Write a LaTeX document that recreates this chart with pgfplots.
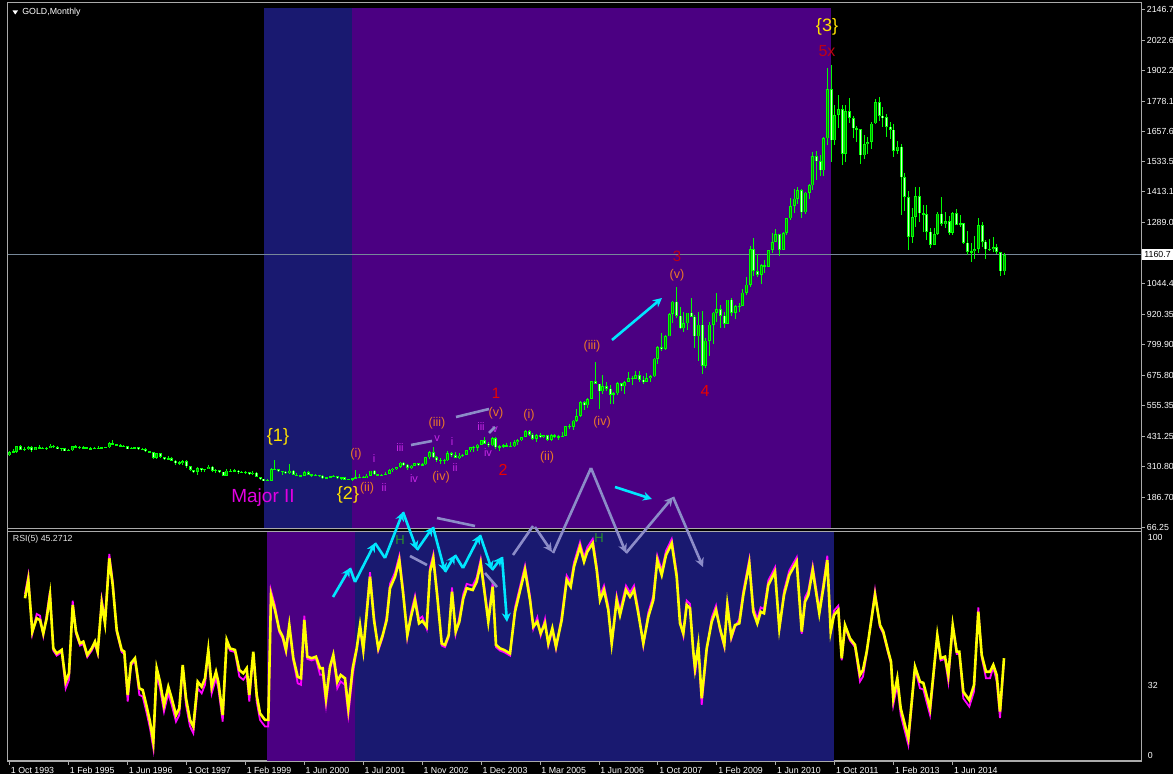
\documentclass[border=0pt]{standalone}
\usepackage{fontspec}
\setmainfont{Liberation Sans}
\usepackage{pgfplots}
\pgfplotsset{compat=1.18}
\usepackage{pgfplotstable}
\usetikzlibrary{arrows.meta}

\definecolor{mtnavy}{RGB}{25,25,112}
\definecolor{mtindigo}{RGB}{75,0,130}
\definecolor{mtframe}{RGB}{170,170,170}
\definecolor{mtline}{RGB}{119,136,153}
\definecolor{candle}{RGB}{0,255,0}
\definecolor{bullfill}{RGB}{0,150,0}
\definecolor{bearfill}{RGB}{210,255,210}
\definecolor{rsiY}{RGB}{255,255,0}
\definecolor{rsiM}{RGB}{255,0,255}
\definecolor{wcyan}{RGB}{0,230,255}
\definecolor{wgray}{RGB}{140,140,200}
\definecolor{worange}{RGB}{235,120,40}
\definecolor{wviolet}{RGB}{200,40,230}
\definecolor{wred}{RGB}{235,0,0}
\definecolor{wdred}{RGB}{190,0,20}
\definecolor{wyellow}{RGB}{255,225,0}
\definecolor{wmag}{RGB}{225,0,225}
\definecolor{wgreen}{RGB}{40,150,40}

\newcommand\fs[1]{\fontsize{#1}{#1}\selectfont}

% monthly bars: index, open, high, low, close
\pgfplotstableread{
i o h l c
0 355 372 354 369
1 369 380 367 370
2 370 392 366 391
3 391 395 376 377
4 377 387 374 381
5 381 392 376 389
6 389 392 368 376
7 376 390 375 387
8 387 395 380 385
9 385 390 379 384
10 384 389 376 386
11 386 399 385 394
12 394 396 386 389
13 389 393 381 383
14 383 384 374 383
15 383 384 371 374
16 374 380 372 376
17 376 393 374 392
18 392 397 386 389
19 389 391 382 385
20 385 392 384 387
21 387 390 381 383
22 383 389 380 382
23 382 387 381 384
24 384 392 381 383
25 383 390 382 387
26 387 390 384 387
27 387 408 386 405
28 405 415 397 400
29 400 402 393 396
30 396 400 390 392
31 392 396 388 391
32 391 392 381 382
33 382 390 380 385
34 385 390 384 387
35 387 388 378 379
36 379 384 378 379
37 379 383 370 371
38 371 373 367 369
39 369 369 342 345
40 345 366 341 364
41 364 364 346 349
42 349 350 337 340
43 340 351 339 345
44 345 348 333 334
45 334 335 316 326
46 326 331 318 325
47 325 337 318 332
48 332 335 306 311
49 311 314 293 296
50 296 298 283 290
51 290 309 278 303
52 303 306 290 297
53 297 302 287 301
54 301 316 299 310
55 310 311 290 293
56 293 300 286 296
57 296 297 285 289
58 289 290 272 273
59 273 300 272 293
60 293 302 287 292
61 292 299 290 294
62 294 296 282 288
63 288 293 283 287
64 287 292 281 287
65 287 290 278 280
66 280 292 278 286
67 286 290 267 268
68 268 269 257 261
69 261 262 252 255
70 255 259 251 254
71 254 304 254 299
72 299 338 295 299
73 299 300 287 291
74 291 293 278 290
75 290 292 281 283
76 283 319 282 293
77 293 295 276 278
78 278 284 273 274
79 274 278 268 272
80 272 294 271 288
81 288 291 276 277
82 277 280 269 277
83 277 279 271 276
84 276 278 267 273
85 273 275 262 264
86 264 270 263 268
87 268 272 263 270
88 270 275 267 272
89 272 272 262 265
90 265 268 255 267
91 267 270 255 258
92 258 262 255 259
93 259 266 254 264
94 264 295 263 266
95 266 279 265 270
96 270 271 263 265
97 265 280 264 273
98 273 294 272 293
99 293 295 275 279
100 279 280 271 275
101 275 282 272 277
102 277 287 277 282
103 282 301 282 296
104 296 304 288 302
105 302 310 298 308
106 308 327 306 326
107 326 330 314 318
108 318 320 298 304
109 304 316 301 313
110 313 325 311 324
111 324 325 311 316
112 316 324 313 319
113 319 350 318 347
114 347 372 342 368
115 368 388 343 347
116 347 352 330 336
117 336 345 319 334
118 334 341 322 336
119 336 372 333 364
120 364 368 350 356
121 356 369 343 346
122 346 365 340 354
123 354 362 348 358
124 358 377 355 375
125 375 390 369 388
126 388 392 367 386
127 386 400 372 398
128 398 418 397 416
129 416 427 399 402
130 402 410 389 396
131 396 428 392 424
132 424 430 381 388
133 388 395 371 393
134 393 399 386 395
135 395 406 389 391
136 391 410 387 391
137 391 418 387 409
138 409 419 398 416
139 416 430 411 429
140 429 456 428 452
141 452 457 432 438
142 438 443 418 422
143 422 440 410 436
144 436 446 424 428
145 428 438 423 435
146 435 437 414 417
147 417 442 414 435
148 435 441 425 430
149 430 436 418 430
150 430 448 428 433
151 433 475 432 473
152 473 480 460 470
153 470 497 456 495
154 495 540 488 513
155 513 572 510 568
156 568 574 538 556
157 556 587 545 582
158 582 654 582 654
159 654 730 641 643
160 643 643 543 613
161 613 676 600 633
162 633 650 614 623
163 623 637 560 599
164 599 609 561 604
165 604 650 598 646
166 646 646 612 632
167 632 655 602 650
168 650 690 648 665
169 665 672 637 663
170 663 693 662 678
171 678 692 651 659
172 659 672 640 650
173 650 684 649 665
174 665 677 650 673
175 673 745 668 743
176 743 795 721 789
177 789 848 774 783
178 783 838 780 834
179 834 928 835 923
180 923 976 887 972
181 972 1033 908 916
182 916 953 864 865
183 865 932 851 886
184 886 905 860 928
185 928 988 909 912
186 912 919 786 833
187 833 931 735 880
188 880 935 681 716
189 716 826 705 815
190 815 889 753 880
191 880 931 802 928
192 928 1006 891 942
193 942 959 866 916
194 916 929 865 883
195 883 980 882 980
196 980 989 913 927
197 927 960 904 955
198 955 967 931 955
199 955 1025 954 1008
200 1008 1070 1000 1040
201 1040 1195 1033 1182
202 1182 1227 1075 1096
203 1096 1162 1072 1081
204 1081 1125 1045 1118
205 1118 1140 1087 1113
206 1113 1180 1113 1180
207 1180 1248 1166 1212
208 1212 1265 1212 1244
209 1244 1245 1157 1181
210 1181 1252 1181 1248
211 1248 1310 1242 1307
212 1307 1387 1300 1357
213 1357 1424 1330 1386
214 1386 1432 1365 1421
215 1421 1424 1308 1332
216 1332 1411 1325 1410
217 1410 1447 1383 1439
218 1439 1575 1420 1556
219 1556 1577 1462 1536
220 1536 1560 1478 1500
221 1500 1632 1479 1628
222 1628 1912 1600 1826
223 1826 1921 1535 1620
224 1620 1764 1601 1722
225 1722 1802 1670 1746
226 1746 1764 1522 1566
227 1566 1763 1532 1738
228 1738 1791 1691 1710
229 1710 1718 1628 1669
230 1669 1677 1614 1664
231 1664 1666 1527 1560
232 1560 1640 1547 1604
233 1604 1633 1564 1614
234 1614 1694 1587 1688
235 1688 1787 1687 1773
236 1773 1796 1700 1719
237 1719 1755 1672 1713
238 1713 1725 1635 1675
239 1675 1695 1626 1663
240 1663 1684 1555 1578
241 1578 1617 1565 1595
242 1595 1606 1321 1472
243 1472 1488 1338 1393
244 1393 1417 1180 1234
245 1234 1347 1208 1312
246 1312 1434 1274 1395
247 1395 1434 1291 1327
248 1327 1361 1251 1323
249 1323 1362 1221 1253
250 1253 1267 1187 1202
251 1202 1270 1202 1244
252 1244 1332 1240 1326
253 1326 1392 1277 1284
254 1284 1331 1268 1296
255 1296 1315 1240 1250
256 1250 1332 1241 1327
257 1327 1345 1281 1282
258 1282 1322 1273 1287
259 1287 1289 1206 1210
260 1210 1255 1161 1172
261 1172 1207 1131 1175
262 1175 1238 1142 1184
263 1184 1307 1167 1279
264 1279 1294 1191 1213
265 1213 1220 1142 1183
266 1183 1224 1175 1183
267 1183 1232 1170 1190
268 1190 1205 1162 1172
269 1172 1172 1077 1095
270 1095 1168 1080 1160
}\gold

% RSI(5): x in screen position, r = yellow line, m = magenta line
\pgfplotstableread{
x r m
25 71.9 73.9
28.3 80.3 82.3
32.3 56.6 55.6
36.7 62.7 64.7
40 61.9 63.9
43.3 55.8 54.8
46.7 62.7 64.7
50 73.4 75.4
53.3 48.9 47.9
56.7 46.6 45.6
61.7 48.2 47.2
65.7 33.6 30.6
69 37.5 34.5
72.7 68.8 70.8
76 56.6 55.6
80 51.2 50.2
83.3 52 51
87.3 45.9 44.9
91.7 48.9 47.9
95 52 51
97.7 47.4 46.4
101.7 69.6 71.6
105 60.4 62.4
109.3 90.2 92.2
112.7 78 80
116.7 57.3 56.3
121.7 48.2 47.2
124.3 47.4 46.4
127.7 27.5 24.5
131 42.1 41.1
135 44.4 43.4
139.3 30.6 27.6
142.7 29.8 26.8
146.7 22.2 19.2
150 15.3 12.3
153.3 6.1 3.1
156.7 39.8 36.8
160 33.6 30.6
164 22.9 19.9
168.3 31.3 28.3
171.7 26 23
176 18.3 15.3
179.3 21.4 18.4
182.7 41.3 40.3
186 26 23
190 16.1 13.1
193.3 13 10
197.7 33.6 30.6
201.7 31.3 28.3
205 35.2 32.2
208.3 48.2 47.2
211.7 31.3 28.3
216 38.2 35.2
218.3 33.6 30.6
222.7 18.3 15.3
226.7 52.8 51.8
230 48.9 47.9
235 48.2 47.2
239.3 39 36
243.3 37.5 34.5
246.7 39.8 36.8
249.3 27.5 24.5
253.3 47.4 46.4
256.7 27.5 24.5
260 19.1 16.1
265 16.1 13.1
268.3 16.1 13.1
271 73.4 75.4
275 66.5 68.5
279.3 57.3 56.3
282.7 54.3 53.3
286 48.2 47.2
289.3 59.6 58.6
293.3 44.4 43.4
297.7 35.9 32.9
301 35.2 32.2
304.3 61.9 63.9
307.3 45.1 44.1
311.7 44.4 43.4
316 45.1 44.1
320 39.8 36.8
322.7 39.8 36.8
326 26 23
330 40.5 39.5
333.3 45.9 44.9
337.3 33.6 30.6
340.7 36.7 33.7
345 35.2 32.2
348.3 21.4 18.4
352.7 39.8 36.8
356.7 48.9 47.9
360 59.6 58.6
363.3 48.2 47.2
366.7 65 67
370 81.8 83.8
374 61.9 63.9
378.3 48.9 47.9
382.7 55 54
386.7 61.9 63.9
390 76.5 78.5
395 81.8 83.8
399.3 89.4 91.4
403.3 73.4 75.4
407.3 55 54
411 63.4 65.4
415 71.1 73.1
419 60.4 62.4
422.3 61.5 63.5
426.7 58.9 57.9
430 84.1 86.1
433.3 90.2 92.2
437.3 72.6 74.6
441.7 51.2 50.2
445 50.5 49.5
448.7 55 54
452 74.9 76.9
455.7 56.6 55.6
459.3 61.1 63.1
463.3 71.9 73.9
466.7 76.5 78.5
472.7 75.7 77.7
476.7 79.5 81.5
480.7 87.9 89.9
484 76.5 78.5
488.3 61.1 63.1
492.7 77.2 79.2
496 50.5 49.5
500 48.9 47.9
504 48.2 47.2
510 46.6 45.6
515 65.7 67.7
525 84.9 86.9
530 71.1 73.1
533.3 58.9 57.9
537.3 61.1 63.1
540.7 55.8 54.8
545 60.4 62.4
548.3 51.2 50.2
552.3 58.1 57.1
556 49.7 48.7
561.7 61.9 63.9
566.7 80.3 82.3
570.7 77.2 79.2
574 86.4 88.4
580 95.6 97.6
584 88.7 90.7
587.3 93.3 95.3
592.7 97.1 99.1
596.7 84.9 86.9
600 71.1 73.1
604 75.7 77.7
608.3 66.5 68.5
611.7 51.2 50.2
616.7 71.1 73.1
620 64.2 66.2
626 75.7 77.7
630 72.6 74.6
634 75.7 77.7
638.3 65 67
643.3 51.2 50.2
648.3 63.4 65.4
653.3 71.1 73.1
657.3 89.4 91.4
661.7 82.6 84.6
666 91.7 93.7
671.7 97.1 99.1
676.7 81.8 83.8
680 60.4 62.4
683.3 55.8 54.8
686.7 68.8 70.8
690 67.3 69.3
693.3 47.4 46.4
695 39.8 36.8
698.3 50.5 49.5
701.7 26 23
706.7 48.9 47.9
711.7 61.1 63.1
716 66.5 68.5
720 58.1 57.1
724.3 50.5 49.5
727.3 68.8 70.8
731.3 54.3 53.3
735 59.6 58.6
739.3 60.4 62.4
743.3 73.4 75.4
749.3 87.9 89.9
753.3 65.7 67.7
757.3 60.4 62.4
760.7 65.7 67.7
764 65 67
768.3 78 80
775 84.1 86.1
779.3 58.1 57.1
784 73.4 75.4
789.3 82.6 84.6
796.7 88.7 90.7
801.7 56.6 55.6
805 70.3 72.3
808.3 73.4 75.4
812.7 84.9 86.9
819.3 65 67
823.3 76.5 78.5
827.3 89.4 91.4
830.7 56.6 55.6
834 64.2 66.2
838.3 66.5 68.5
841.7 44.4 43.4
845 59.6 58.6
850 53.5 52.5
855 50.5 49.5
860 36.7 33.7
863 39 36
866.7 47.4 46.4
875 73.4 75.4
880 59.6 58.6
883.3 56.6 55.6
888.3 47.4 46.4
891 42.8 41.8
893.3 26 23
897.3 35.2 32.2
900.7 21.4 18.4
908.3 7.7 4.7
915 40.5 39.5
920 33.6 30.6
923.3 33.1 30.1
930 21.4 18.4
937.3 55 54
940.7 44.4 43.4
945 45.1 44.1
948.3 36.7 33.7
952.7 59.6 58.6
956.7 47.4 46.4
959.3 47.4 46.4
963.3 29 26
969.3 25.2 22.2
974 32.1 29.1
978.3 65.7 67.7
981.7 45.9 44.9
986 38.2 35.2
990 38.2 35.2
993.3 41.3 40.3
996.7 36.7 33.7
1000 19.9 16.9
1004 44.4 43.4
}\rsi

\pgfplotsset{
  candlebars/.style={draw=none, fill=none, mark=none, forget plot,
    error bars/y dir=both, error bars/y explicit, error bars/error mark=none,
    error bars/error bar style={solid, #1}},
}

\begin{document}
\begin{tikzpicture}
\fill[black] (0,0) rectangle (586.5pt,-387pt);
\useasboundingbox (0,0) rectangle (586.5pt,-387pt);

% price panel
\begin{axis}[
  at={(4pt,-4pt)}, anchor=north west,
  scale only axis, width=566.75pt, height=260pt,
  xmin=-0.434, xmax=307.25, ymin=63.44, ymax=2151.9,
  axis x line=none, axis y line*=right,
  axis line style={draw=mtframe, line width=0.5pt},
  ytick={66.25,186.70,310.80,431.25,555.35,675.80,799.90,920.35,1044.4,1289.0,1413.1,1533.5,1657.6,1778.1,1902.2,2022.6,2146.7},
  yticklabels={66.25,186.70,310.80,431.25,555.35,675.80,799.90,920.35,1044.4,1289.0,1413.1,1533.5,1657.6,1778.1,1902.2,2022.6,2146.7},
  tick align=outside, major tick length=1.5pt,
  tick style={draw=mtframe, line width=0.5pt},
  yticklabel style={font=\fs{4.4}, text=white, inner sep=0pt, xshift=1pt},
]
\fill[mtnavy] (axis cs:69.06,63.44) rectangle (axis cs:92.94,2151.9);
\fill[mtindigo] (axis cs:92.94,63.44) rectangle (axis cs:223.0,2151.9);
\draw[mtline, line width=0.5pt] (axis cs:-0.434,1160.7) -- (axis cs:307.25,1160.7);
% wicks
\addplot[candlebars={draw=candle, line width=0.5pt}]
  table[x=i, y expr={(\thisrow{h}+\thisrow{l})/2}, y error expr={(\thisrow{h}-\thisrow{l})/2}] {\gold};
% bodies
\addplot[candlebars={draw=candle, line width=1.5pt}]
  table[x=i, y expr={(\thisrow{o}+\thisrow{c})/2}, y error expr={max(abs(\thisrow{c}-\thisrow{o})/2,1.5)}] {\gold};
\addplot[restrict expr to domain={\thisrow{c}-\thisrow{o}}{0:100000},
  candlebars={draw=bullfill, line width=0.5pt}]
  table[x=i, y expr={(\thisrow{o}+\thisrow{c})/2}, y error expr={max(abs(\thisrow{c}-\thisrow{o})/2-2.5,0)}] {\gold};
\addplot[restrict expr to domain={\thisrow{c}-\thisrow{o}}{-100000:-0.01},
  candlebars={draw=bearfill, line width=0.5pt}]
  table[x=i, y expr={(\thisrow{o}+\thisrow{c})/2}, y error expr={max(abs(\thisrow{c}-\thisrow{o})/2-2.5,0)}] {\gold};
\end{axis}

% RSI panel
\begin{axis}[
  at={(4pt,-266pt)}, anchor=north west,
  scale only axis, width=566.75pt, height=114.5pt,
  xmin=8, xmax=1141.5, ymin=-2.75, ymax=102.3,
  axis x line*=bottom, axis y line*=right,
  axis line style={draw=mtframe, line width=0.5pt},
  xtick={9.6,68.54,127.48,186.42,245.36,304.3,363.24,422.18,481.12,540.06,599,657.94,716.88,775.82,834.76,893.7,952.64},
  xticklabels={1 Oct 1993,1 Feb 1995,1 Jun 1996,1 Oct 1997,1 Feb 1999,1 Jun 2000,1 Jul 2001,1 Nov 2002,1 Dec 2003,1 Mar 2005,1 Jun 2006,1 Oct 2007,1 Feb 2009,1 Jun 2010,1 Oct 2011,1 Feb 2013,1 Jun 2014},
  ytick={0,32,100}, yticklabels={0,32,100},
  ytick style={draw=none},
  tick align=outside, major tick length=2pt,
  tick style={draw=mtframe, line width=0.5pt},
  xticklabel style={font=\fs{4.4}, text=white, inner sep=0pt, anchor=north west, xshift=0.5pt, yshift=-1pt},
  yticklabel style={font=\fs{4.4}, text=white, inner sep=0pt, xshift=1pt},
]
\fill[mtindigo] (axis cs:267,-2.75) rectangle (axis cs:355,102.3);
\fill[mtnavy] (axis cs:355,-2.75) rectangle (axis cs:834,102.3);
\addplot[rsiM, line width=0.9pt, forget plot] table[x=x, y=m] {\rsi};
\addplot[rsiY, line width=1.3pt, forget plot] table[x=x, y=r] {\rsi};
\end{axis}

% screen-pixel overlay
\begin{scope}[x=0.5pt, y=-0.5pt,
  warr/.style={wcyan, line width=1.3pt, -{Stealth[length=4.5pt,width=4.5pt]}},
  wln/.style={wcyan, line width=1.3pt},
  garr/.style={wgray, line width=1.3pt, -{Stealth[length=4.5pt,width=4.5pt]}},
  gln/.style={wgray, line width=1.3pt}]
\draw[mtframe, line width=0.5pt] (7.5,3) -- (1141.5,3) -- (1141.5,761) -- (7.5,761) -- cycle;
\draw[mtframe, line width=0.5pt] (7.5,528.5) -- (1141.5,528.5);
\draw[mtframe, line width=0.5pt] (7.5,531.5) -- (1141.5,531.5);

\fill[white] (12.5,10.5) -- (18,10.5) -- (15.25,14.5) -- cycle;
\node[anchor=west, text=white, font=\fs{4.4}, inner sep=0pt] at (22,12.5) {GOLD,Monthly};
\node[anchor=west, text=white!80!gray, font=\fs{4.4}, inner sep=0pt] at (12.5,539.5) {RSI(5) 45.2712};
\node[anchor=west, fill=white, text=black, font=\fs{4.4}, inner xsep=1pt, inner ysep=1.2pt] at (1142,254.5) {1160.7};

% wave labels
\node[text=wmag, font=\fs{9.5}] at (263,498) {Major II};
\node[text=wyellow, font=\fs{9}] at (278,437) {\{1\}};
\node[text=wyellow, font=\fs{9}] at (348,495) {\{2\}};
\node[text=wyellow, font=\fs{9}] at (827,27) {\{3\}};
\node[text=wred, font=\fs{7.5}] at (496,393) {1};
\node[text=wred, font=\fs{8}] at (503,470) {2};
\node[text=wdred, font=\fs{7.5}] at (677,256) {3};
\node[text=wred, font=\fs{8}] at (705,391) {4};
\node[text=wdred, font=\fs{8}] at (827,51) {5x};
\foreach \p/\t in {{356,454}/(i), {367,488}/(ii), {437,423}/(iii), {441,477}/(iv), {496,413}/(v),
                   {529,415}/(i), {547,457}/(ii), {592,346}/(iii), {602,422}/(iv), {677,275}/(v)}
  \node[text=worange, font=\fs{6.3}] at (\p) {\t};
\foreach \p/\t in {{374,459}/i, {384,488}/ii, {400,448}/iii, {414,479}/iv, {437,439}/v,
                   {452,442}/i, {455,468}/ii, {481,427}/iii, {488,453}/iv, {495,430}/v}
  \node[text=wviolet, font=\fs{5.5}] at (\p) {\t};
\node[text=wgreen, font=\fs{6.5}] at (400,540) {H};
\node[text=wgreen, font=\fs{6.5}] at (599,538) {H};

% gray guide lines and arrows
\draw[gln] (411,445) -- (432,441);
\draw[gln] (456,417) -- (489,409);
\draw[gln] (489,433) -- (495,427);
\draw[gln] (437,518) -- (475,526);
\draw[gln] (410,556) -- (427,565);
\draw[gln] (485,573) -- (497,587);
\draw[gln] (513,555) -- (533,526);
\draw[garr] (535,527) -- (552,552);
\draw[gln] (553,553) -- (591,468);
\draw[garr] (591,468) -- (626,553);
\draw[garr] (626,553) -- (673,497);
\draw[garr] (673,497) -- (703,567);

% cyan arrows
\draw[warr] (612,340) -- (662,298);
\draw[warr] (615,487) -- (652,499);
\draw[warr] (333,597) -- (350,568);
\draw[wln] (350,568) -- (355,582);
\draw[warr] (355,582) -- (375,543);
\draw[wln] (375,543) -- (385,558);
\draw[warr] (385,558) -- (403,512);
\draw[warr] (403,512) -- (417,550);
\draw[warr] (417,550) -- (433,527);
\draw[warr] (433,527) -- (445,572);
\draw[warr] (445,572) -- (455,555);
\draw[wln] (455,555) -- (463,568);
\draw[warr] (463,568) -- (480,535);
\draw[warr] (480,535) -- (492,570);
\draw[warr] (492,570) -- (502,557);
\draw[warr] (502,557) -- (507,622);
\end{scope}
\end{tikzpicture}
\end{document}
